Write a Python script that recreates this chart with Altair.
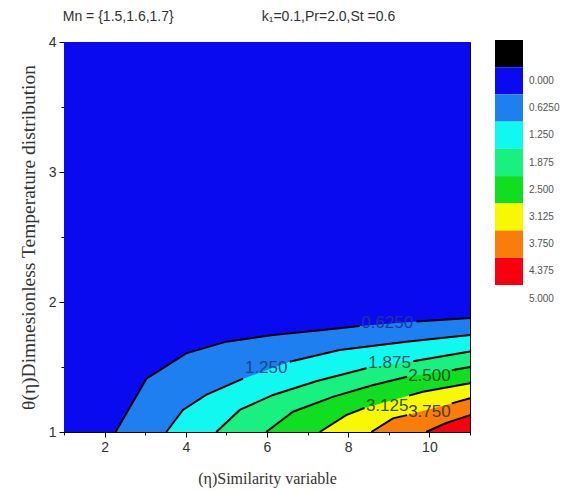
import altair as alt
import pandas as pd

# contour levels of theta(eta) and the filled-band colours
levels = [0.0, 0.625, 1.25, 1.875, 2.5, 3.125, 3.75, 4.375]
thresholds = [0.0, 0.625, 1.25, 1.875, 2.5, 3.125, 3.75, 4.375, 5.0]
band_colors = ["#000000", "#0a0af0", "#1e80f0", "#10f8f0", "#18f080",
               "#10de20", "#f8f800", "#fa7d0a", "#f80010", "#ffffff"]

# colour bar: one box per band (lowest first) and its tick labels
box_level = [-0.3125, 0.3125, 0.9375, 1.5625, 2.1875, 2.8125, 3.4375, 4.0625, 4.6875]
legend_labels = ["0.000", "0.6250", "1.250", "1.875", "2.500",
                 "3.125", "3.750", "4.375", "5.000"]

# each contour is y(x), from where it leaves the bottom edge to the right edge
x_000 = [1.0, 11.0]
y_000 = [4.0, 4.0]
x_0625 = [2.27, 3.03, 4.01, 5.0, 6.15, 7.38, 8.28, 9.68, 11.0]
y_0625 = [1.0, 1.41, 1.605, 1.695, 1.746, 1.785, 1.815, 1.85, 1.877]
x_1250 = [3.52, 3.93, 4.5, 5.41, 6.56, 7.79, 9.43, 11.0]
y_1250 = [1.0, 1.17, 1.285, 1.41, 1.54, 1.63, 1.695, 1.746]
x_1875 = [4.75, 5.33, 6.15, 7.21, 8.45, 9.6, 11.0]
y_1875 = [1.0, 1.17, 1.285, 1.39, 1.49, 1.545, 1.62]
x_2500 = [5.98, 6.64, 7.62, 8.6, 9.45, 10.55, 11.0]
y_2500 = [1.0, 1.156, 1.27, 1.36, 1.425, 1.475, 1.50]
x_3125 = [7.3, 7.95, 8.4, 9.5, 9.84, 11.0]
y_3125 = [1.0, 1.13, 1.185, 1.28, 1.31, 1.375]
x_3750 = [8.57, 9.1, 9.45, 10.55, 11.0]
y_3750 = [1.0, 1.105, 1.13, 1.22, 1.26]
x_4375 = [9.92, 10.4, 11.0]
y_4375 = [1.0, 1.067, 1.13]

# index after which each contour line is interrupted by its label
label_gap = [None, 6, 3, 4, 4, 2, 2, None]

# contour labels
label_text = ["0.6250", "1.250", "1.875", "2.500", "3.125", "3.750"]
label_x = [8.96, 5.98, 9.02, 10.0, 8.96, 10.0]
label_y = [1.84, 1.49, 1.53, 1.43, 1.20, 1.156]
label_color = ["#22349a", "#1c448a", "#14584e", "#145a2a", "#2c5a16", "#4a3a14"]

# header annotations
header_text = ["Mn = {1.5,1.6,1.7}", "k\u2081=0.1,Pr=2.0,St =0.6"]
header_x = [0.97, 5.87]
header_y = [4.19, 4.19]

curves_x = [x_000, x_0625, x_1250, x_1875, x_2500, x_3125, x_3750, x_4375]
curves_y = [y_000, y_0625, y_1250, y_1875, y_2500, y_3125, y_3750, y_4375]

rows = []
for lv, xs, ys, gap in zip(levels, curves_x, curves_y, label_gap):
    for i, (xv, yv) in enumerate(zip(xs, ys)):
        part = 0 if gap is None or i <= gap else 1
        rows.append({"level": lv, "x": xv, "y": yv, "seg": f"{lv}-{part}"})
contours = pd.DataFrame(rows)

labels = pd.DataFrame({"text": label_text, "x": label_x, "y": label_y, "c": label_color})
headers = pd.DataFrame({"text": header_text, "x": header_x, "y": header_y})
boxes = pd.DataFrame({"level": box_level,
                      "b0": list(range(len(box_level))),
                      "b1": [k + 1 for k in range(len(box_level))]})
bar_ticks = pd.DataFrame({"text": legend_labels,
                          "pos": [k + 1.5 for k in range(len(legend_labels))],
                          "side": [1.21] * len(legend_labels)})

x_scale = alt.Scale(domain=[1, 11], nice=False, zero=False)
y_scale = alt.Scale(domain=[1, 4], nice=False, zero=False)

x_axis = alt.Axis(
    values=list(range(1, 12)),
    labelExpr="datum.value % 2 == 0 ? datum.value : ''",
    tickSize={"condition": {"test": "datum.value % 2 == 0", "value": 5}, "value": 3},
    title="(\u03b7)Similarity variable",
    titleFont="Liberation Serif", titleFontSize=16, titleFontWeight="normal",
    titleColor="#333333", titlePadding=16,
    labelFont="Liberation Sans", labelFontSize=14, labelColor="#333333",
    labelPadding=3, labelOverlap=False,
    domainColor="black", tickColor="black", grid=False,
)
y_axis = alt.Axis(
    values=[1, 1.5, 2, 2.5, 3, 3.5, 4],
    labelExpr="datum.value % 1 == 0 ? datum.value : ''",
    tickSize={"condition": {"test": "datum.value % 1 == 0", "value": 5}, "value": 3},
    title="\u03b8(\u03b7)Dimnesionless Temperature distribution",
    titleFont="Liberation Serif", titleFontSize=19.5, titleFontWeight="normal",
    titleColor="#333333", titlePadding=10,
    labelFont="Liberation Sans", labelFontSize=14, labelColor="#333333",
    labelPadding=3, labelOverlap=False,
    domainColor="black", tickColor="black", grid=False,
)

color_scale = alt.Scale(type="threshold", domain=thresholds, range=band_colors)

base = alt.Chart(contours)

# filled bands: each area fills below its contour with the colour of the band above the level
bands = []
for lv in levels:
    bands.append(
        base.transform_filter(alt.datum.level == lv)
        .mark_area(interpolate="linear")
        .encode(
            x=alt.X("x:Q", scale=x_scale, axis=x_axis),
            y=alt.Y("y:Q", scale=y_scale, axis=y_axis, stack=None),
            y2=alt.datum(1),
            color=alt.Color("level:Q", scale=color_scale, legend=None),
        )
    )

lines = (
    base.transform_filter(alt.datum.level > 0)
    .mark_line(color="black", strokeWidth=2, interpolate="linear")
    .encode(
        x=alt.X("x:Q", scale=x_scale),
        y=alt.Y("y:Q", scale=y_scale),
        detail="seg:N",
    )
)

label_marks = (
    alt.Chart(labels)
    .mark_text(font="Liberation Sans", fontSize=17, align="center", baseline="middle")
    .encode(
        x=alt.X("x:Q", scale=x_scale),
        y=alt.Y("y:Q", scale=y_scale),
        text="text:N",
        color=alt.Color("c:N", scale=None),
    )
)

header_marks = (
    alt.Chart(headers)
    .mark_text(font="Liberation Sans", fontSize=14, align="left", baseline="middle",
               color="#333333")
    .encode(
        x=alt.X("x:Q", scale=x_scale),
        y=alt.Y("y:Q", scale=y_scale),
        text="text:N",
    )
)

main = alt.layer(*bands, lines, label_marks, header_marks)

# colour bar to the right of the plot, on its own scales
bar_x = alt.Scale(domain=[0, 1], range=[431, 459])
bar_y = alt.Scale(domain=[0, 9], range=[-2, 243])

bar_boxes = (
    alt.Chart(boxes)
    .mark_rect()
    .encode(
        x=alt.X("zero:Q", scale=bar_x, axis=None),
        x2=alt.X2("one:Q"),
        y=alt.Y("b0:Q", scale=bar_y, axis=None),
        y2=alt.Y2("b1:Q"),
        color=alt.Color("level:Q", scale=color_scale, legend=None),
    )
    .transform_calculate(zero="0", one="1")
)

bar_labels = (
    alt.Chart(bar_ticks)
    .mark_text(font="Liberation Sans", fontSize=10, align="left", baseline="middle",
               color="#555555")
    .encode(
        x=alt.X("side:Q", scale=bar_x, axis=None),
        y=alt.Y("pos:Q", scale=bar_y, axis=None),
        text="text:N",
    )
)

colorbar = alt.layer(bar_boxes, bar_labels)

chart = (
    alt.layer(main, colorbar)
    .resolve_scale(x="independent", y="independent")
    .properties(
        autosize=alt.AutoSizeParams(type="none"),
        padding={"left": 64, "top": 42, "right": 105, "bottom": 58},
        background="white",
    )
    .configure_view(stroke="black", strokeWidth=1, continuousWidth=406, continuousHeight=390)
)

chart.save("out.html", embed_options={"renderer": "svg", "actions": False})
